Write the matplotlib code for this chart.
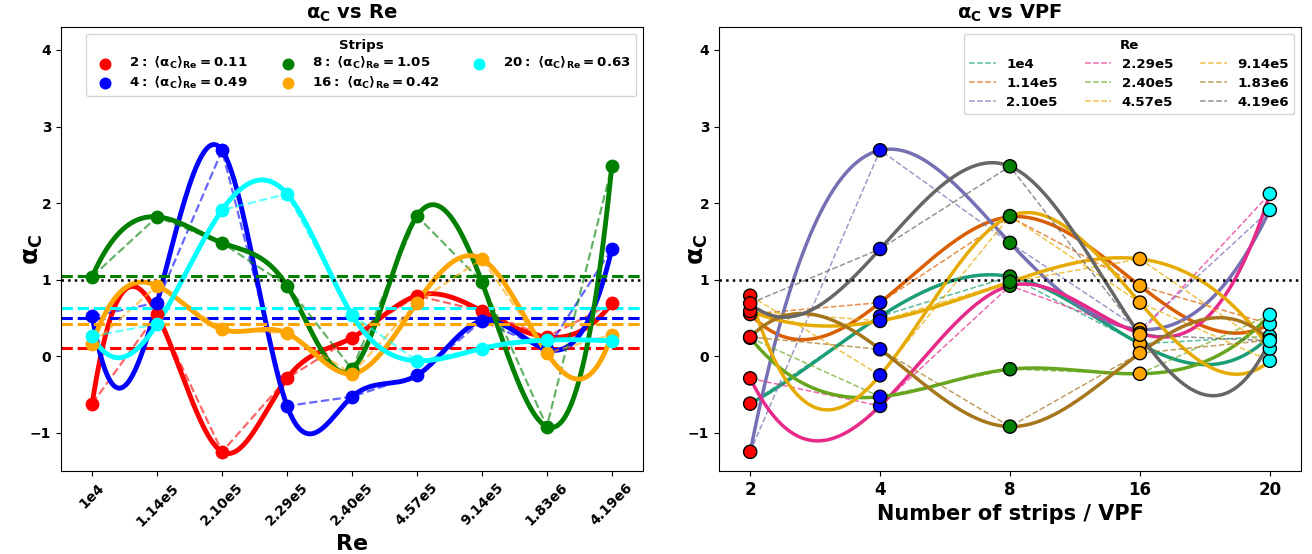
import numpy as np
import matplotlib
matplotlib.use('Agg')
import matplotlib.pyplot as plt

plt.rcParams['font.family'] = ['DejaVu Sans']
plt.rcParams['font.weight'] = 'bold'
plt.rcParams['axes.titleweight'] = 'bold'
plt.rcParams['axes.labelweight'] = 'bold'
plt.rcParams['mathtext.default'] = 'bf'

re_labels = ['1e4', '1.14e5', '2.10e5', '2.29e5', '2.40e5',
             '4.57e5', '9.14e5', '1.83e6', '4.19e6']
strips = [2, 4, 8, 16, 20]

# alpha_C per Re, one list per strip count
alpha_s2 = [-0.62, 0.55, -1.25, -0.29, 0.24, 0.79, 0.59, 0.25, 0.69]
alpha_s4 = [0.52, 0.70, 2.69, -0.65, -0.53, -0.25, 0.46, 0.09, 1.40]
alpha_s8 = [1.04, 1.82, 1.48, 0.92, -0.17, 1.83, 0.97, -0.92, 2.48]
alpha_s16 = [0.16, 0.92, 0.35, 0.30, -0.23, 0.70, 1.27, 0.04, 0.28]
alpha_s20 = [0.26, 0.42, 1.91, 2.12, 0.54, -0.06, 0.10, 0.21, 0.20]

strip_colors = ['red', 'blue', 'green', 'orange', 'cyan']
re_colors = ['#1b9e77', '#d95f02', '#7570b3', '#e7298a', '#66a61e',
             '#e6ab02', '#e6ab02', '#a6761d', '#666666']


def smooth(y, num=400):
    """Not-a-knot cubic spline through equally spaced points."""
    y = np.asarray(y, float)
    n = len(y)
    A = np.zeros((n, n))
    b = np.zeros(n)
    A[0, :3] = [1, -2, 1]
    A[-1, -3:] = [1, -2, 1]
    for i in range(1, n - 1):
        A[i, i - 1:i + 2] = [1, 4, 1]
        b[i] = 6 * (y[i + 1] - 2 * y[i] + y[i - 1])
    M = np.linalg.solve(A, b)
    t = np.linspace(0, n - 1, num)
    i = np.minimum(np.floor(t).astype(int), n - 2)
    u = t - i
    s = ((1 - u) * y[i] + u * y[i + 1]
         + ((1 - u) ** 3 - (1 - u)) * M[i] / 6
         + (u ** 3 - u) * M[i + 1] / 6)
    return t, s


data = [alpha_s2, alpha_s4, alpha_s8, alpha_s16, alpha_s20]

fig = plt.figure(figsize=(13.12, 5.54), dpi=100)
ax1 = fig.add_axes([61 / 1312, 83 / 554, 582 / 1312, 444 / 554])
ax2 = fig.add_axes([719 / 1312, 83 / 554, 582 / 1312, 444 / 554])

# --- alpha_C vs Re ---
xr = np.arange(len(re_labels))
for n, vals, c in zip(strips, data, strip_colors):
    t, s = smooth(vals)
    ax1.plot(t, s, color=c, lw=3.5)
    ax1.plot(xr, vals, '--', color=c, lw=1.6, alpha=0.6)
    mean = np.mean(vals)
    label = rf'${n}:\ \langle\alpha_C\rangle_{{Re}} = {mean:.2f}$'
    ax1.scatter(xr, vals, color=c, s=80, zorder=3, label=label)
    ax1.axhline(mean, color=c, ls='--', lw=2.2)
ax1.axhline(1, color='k', ls=':', lw=1.8)
ax1.set_xticks(xr)
ax1.set_xticklabels(re_labels, rotation=45, fontsize=10)
ax1.set_xlim(-0.48, 8.48)
ax1.set_ylim(-1.5, 4.3)
ax1.tick_params(axis='y', labelsize=10)
ax1.set_xlabel('Re', fontsize=16)
ax1.set_ylabel(r'$\alpha_C$', fontsize=18)
ax1.yaxis.set_label_coords(-0.027, 0.5)
ax1.set_title(r'$\alpha_C$ vs Re', fontsize=14)
ax1.legend(title='Strips', ncol=3, loc='upper right', fontsize=9.6,
           markerscale=0.85, labelspacing=0.25,
           title_fontproperties={'weight': 'bold', 'size': 9.6})

# --- alpha_C vs VPF ---
xs = np.arange(len(strips))
for j, (lab, c) in enumerate(zip(re_labels, re_colors)):
    vals = [d[j] for d in data]
    t, s = smooth(vals)
    ax2.plot(t, s, color=c, lw=2.5)
    ax2.plot(xs, vals, '--', color=c, lw=1.1, alpha=0.7, label=lab)
    ax2.scatter(xs, vals, c=strip_colors, edgecolors='k', s=90, zorder=3)
ax2.axhline(1, color='k', ls=':', lw=1.8)
ax2.set_xticks(xs)
ax2.set_xticklabels([str(n) for n in strips], fontsize=12)
ax2.set_xlim(-0.24, 4.24)
ax2.set_ylim(-1.5, 4.3)
ax2.tick_params(axis='y', labelsize=10)
ax2.set_xlabel('Number of strips / VPF', fontsize=15)
ax2.set_ylabel(r'$\alpha_C$', fontsize=18)
ax2.yaxis.set_label_coords(-0.016, 0.5)
ax2.set_title(r'$\alpha_C$ vs VPF', fontsize=14)
ax2.legend(title='Re', ncol=3, loc='upper right', fontsize=9.6,
           labelspacing=0.45,
           title_fontproperties={'weight': 'bold', 'size': 9.6})

fig.savefig('out.png', dpi=100)
